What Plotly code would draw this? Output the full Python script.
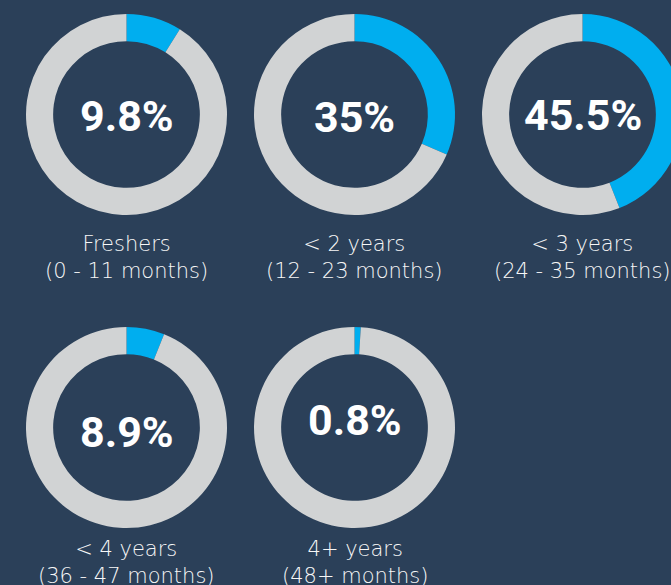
import plotly.graph_objects as go

labels_top = ["Freshers", "< 2 years", "< 3 years", "< 4 years", "4+ years"]
labels_sub = ["(0 - 11 months)", "(12 - 23 months)", "(24 - 35 months)", "(36 - 47 months)", "(48+ months)"]
value_text = ["9.8%", "35%", "45.5%", "8.9%", "0.8%"]
# arc shares as drawn in the picture (percent of the ring)
arc_values = [8.9, 31.5, 44.0, 6.1, 1.0]
arc_rest = [100 - v for v in arc_values]

BG = "#2b4059"
BLUE = "#00aeef"
GRAY = "#d1d3d4"

W, H = 700, 585
R = 100.5
centers = [(126.5, 114.5), (354.5, 114.5), (582.5, 114.5), (126.5, 427.5), (354.5, 427.5)]
text_dy = [2, 3, 1, 4, -8]
label_dy = [143, 143, 143, 135, 135]

fig = go.Figure()
annotations = []
for i, (cx, cy) in enumerate(centers):
    fig.add_trace(go.Pie(
        values=[arc_values[i], arc_rest[i]],
        labels=["share", "rest"],
        hole=0.73,
        sort=False,
        direction="clockwise",
        rotation=0,
        textinfo="none",
        hoverinfo="none",
        showlegend=False,
        marker=dict(colors=[BLUE, GRAY], line=dict(width=0)),
        domain=dict(x=[(cx - R) / W, (cx + R) / W], y=[1 - (cy + R) / H, 1 - (cy - R) / H]),
    ))
    annotations.append(dict(
        x=cx / W, y=1 - (cy + text_dy[i]) / H, xref="paper", yref="paper",
        text=value_text[i], showarrow=False, xanchor="center", yanchor="middle",
        font=dict(family="Roboto", size=43, color="white", weight="bold"),
    ))
    annotations.append(dict(
        x=cx / W, y=1 - (cy + label_dy[i]) / H, xref="paper", yref="paper",
        text=labels_top[i] + "<br>" + labels_sub[i], showarrow=False,
        xanchor="center", yanchor="middle", align="center",
        font=dict(family="DejaVu Sans", size=21, color="#f7f7f7", weight=300),
    ))

fig.update_layout(
    width=W, height=H,
    margin=dict(l=0, r=0, t=0, b=0),
    paper_bgcolor=BG, plot_bgcolor=BG,
    annotations=annotations,
)

fig.write_html(
    "out.html",
    config={"displayModeBar": False},
    post_script="document.body.style.margin='0';document.body.style.overflow='hidden';document.documentElement.style.overflow='hidden';",
)
